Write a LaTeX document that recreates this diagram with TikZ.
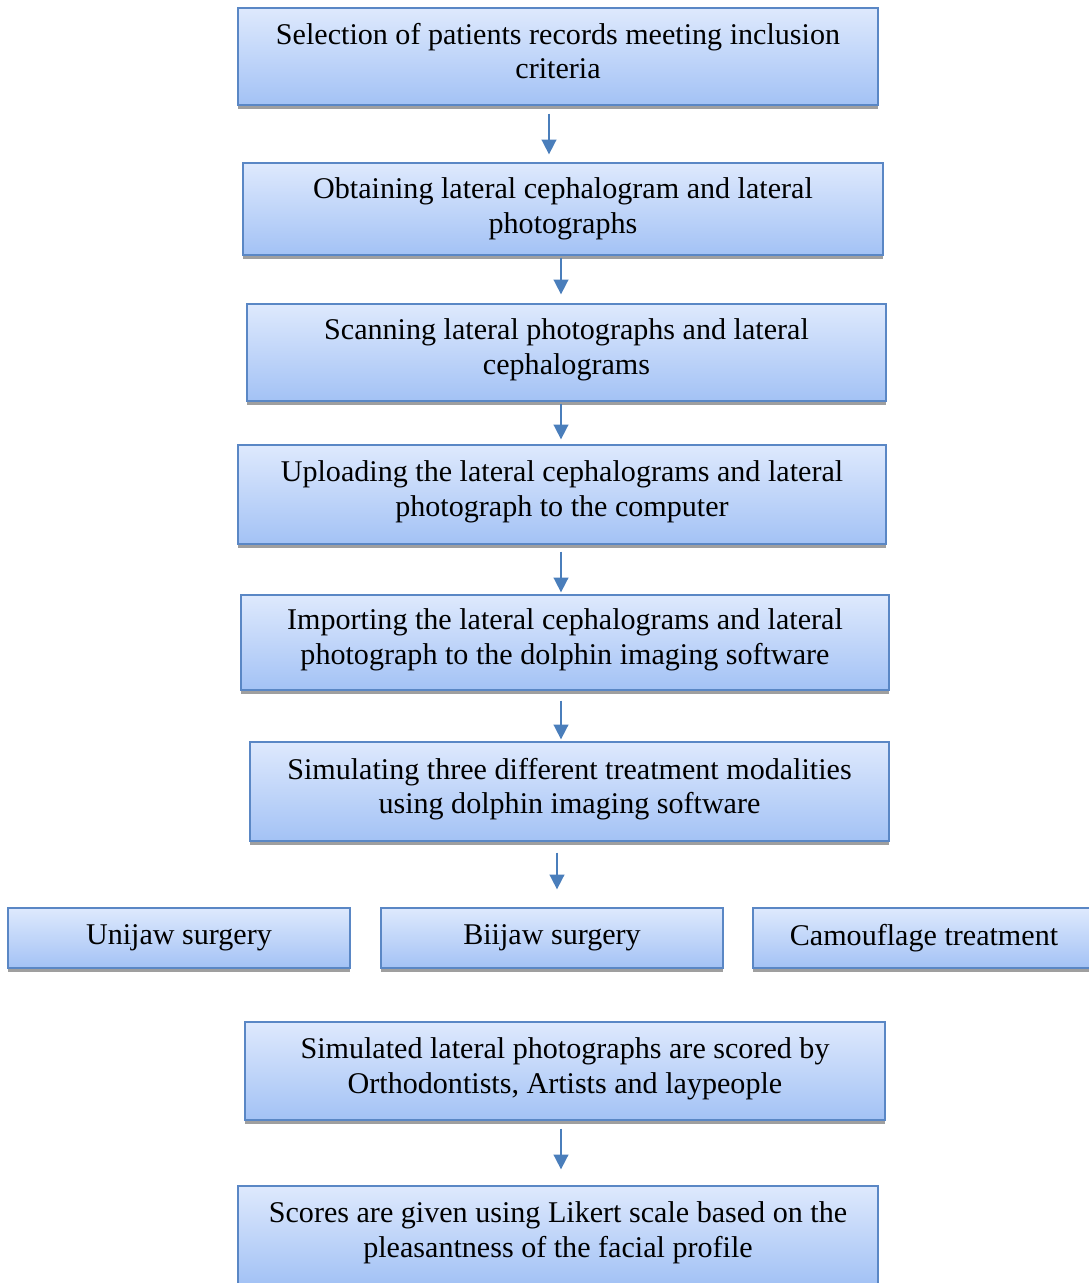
\documentclass[tikz,border=0pt]{standalone}
\usepackage{fontspec}
\setmainfont{Liberation Serif}
\usepackage{tikz}
\usetikzlibrary{positioning,calc,arrows.meta,shadows}
\definecolor{boxtop}{HTML}{DEE9FD}
\definecolor{boxbot}{HTML}{A3C2F5}
\definecolor{boxline}{HTML}{5A87C5}
\definecolor{flowblue}{HTML}{4A7EBB}

\begin{document}
\begin{tikzpicture}[x=0.025cm,y=-0.025cm,
                    >={Triangle[width=10.5pt,length=10.5pt]},
                    box/.style={draw=boxline,line width=0.9pt,top color=boxtop,bottom color=boxbot,
                                minimum width=16cm,minimum height=2.4cm,align=center,inner sep=0pt,
                                font=\fontsize{21.4}{24.8}\selectfont,
                                drop shadow={shadow xshift=0pt,shadow yshift=-2.5pt,fill=gray!75,opacity=1}},
                    stage/.style={box,text depth=8pt},
                    option/.style={box,minimum width=8.55cm,minimum height=1.5cm},
                    flow/.style={->,draw=flowblue,line width=1.2pt}]
            \useasboundingbox (0,0) rectangle (1089,1283);
            %Nodes
                \node[stage,minimum height=2.425cm] (sel) at (558,56.5) {Selection of patients records meeting inclusion\\criteria};
                \node[stage,minimum height=2.3cm,text depth=4.5pt] (obt) at (563,209) {Obtaining lateral cephalogram and lateral\\photographs};
                \node[stage,minimum width=15.975cm,minimum height=2.425cm] (scan) at (566.5,352.5) {Scanning lateral photographs and lateral\\cephalograms};
                \node[stage,minimum width=16.2cm,minimum height=2.475cm] (upl) at (562,494.5) {Uploading the lateral cephalograms and lateral\\photograph to the computer};
                \node[stage,minimum width=16.2cm,minimum height=2.375cm] (imp) at (565,642.5) {Importing the lateral cephalograms and lateral\\photograph to the dolphin imaging software};
                \node[stage,minimum width=15.975cm,minimum height=2.475cm] (simu) at (569.5,791.5) {Simulating three different treatment modalities\\using dolphin imaging software};
                \node[option] (uni) at (179,938) {Unijaw surgery};
                \node[option] (bi) at (552,938) {Biijaw surgery};
                \node[option] (cam) at (924,938) {Camouflage treatment};
                \node[stage,minimum height=2.45cm] (scored) at (565,1071) {Simulated lateral photographs are scored by\\Orthodontists, Artists and laypeople};
                \node[stage,minimum height=2.45cm] (likert) at (558,1235) {Scores are given using Likert scale based on the\\pleasantness of the facial profile};

            %Lines
                \draw[flow] ($(sel.south)+(-9,8)$) -- ($(sel.south |- obt.north)+(-9,-8)$);
                \draw[flow] ($(obt.south)+(-2,2)$) -- ($(obt.south |- scan.north)+(-2,-9)$);
                \draw[flow] ($(scan.south)+(-5.5,2)$) -- ($(scan.south |- upl.north)+(-5.5,-5)$);
                \draw[flow] ($(upl.south)+(-1,7)$) -- ($(upl.south |- imp.north)+(-1,-2)$);
                \draw[flow] ($(imp.south)+(-4,10)$) -- ($(imp.south |- simu.north)+(-4,-2)$);
                \draw[flow] ($(bi.north |- simu.south)+(5,11)$) -- ($(bi.north)+(5,-18)$);
                \draw[flow] ($(scored.south)+(-4,8)$) -- ($(scored.south |- likert.north)+(-4,-16)$);
\end{tikzpicture}
\end{document}
